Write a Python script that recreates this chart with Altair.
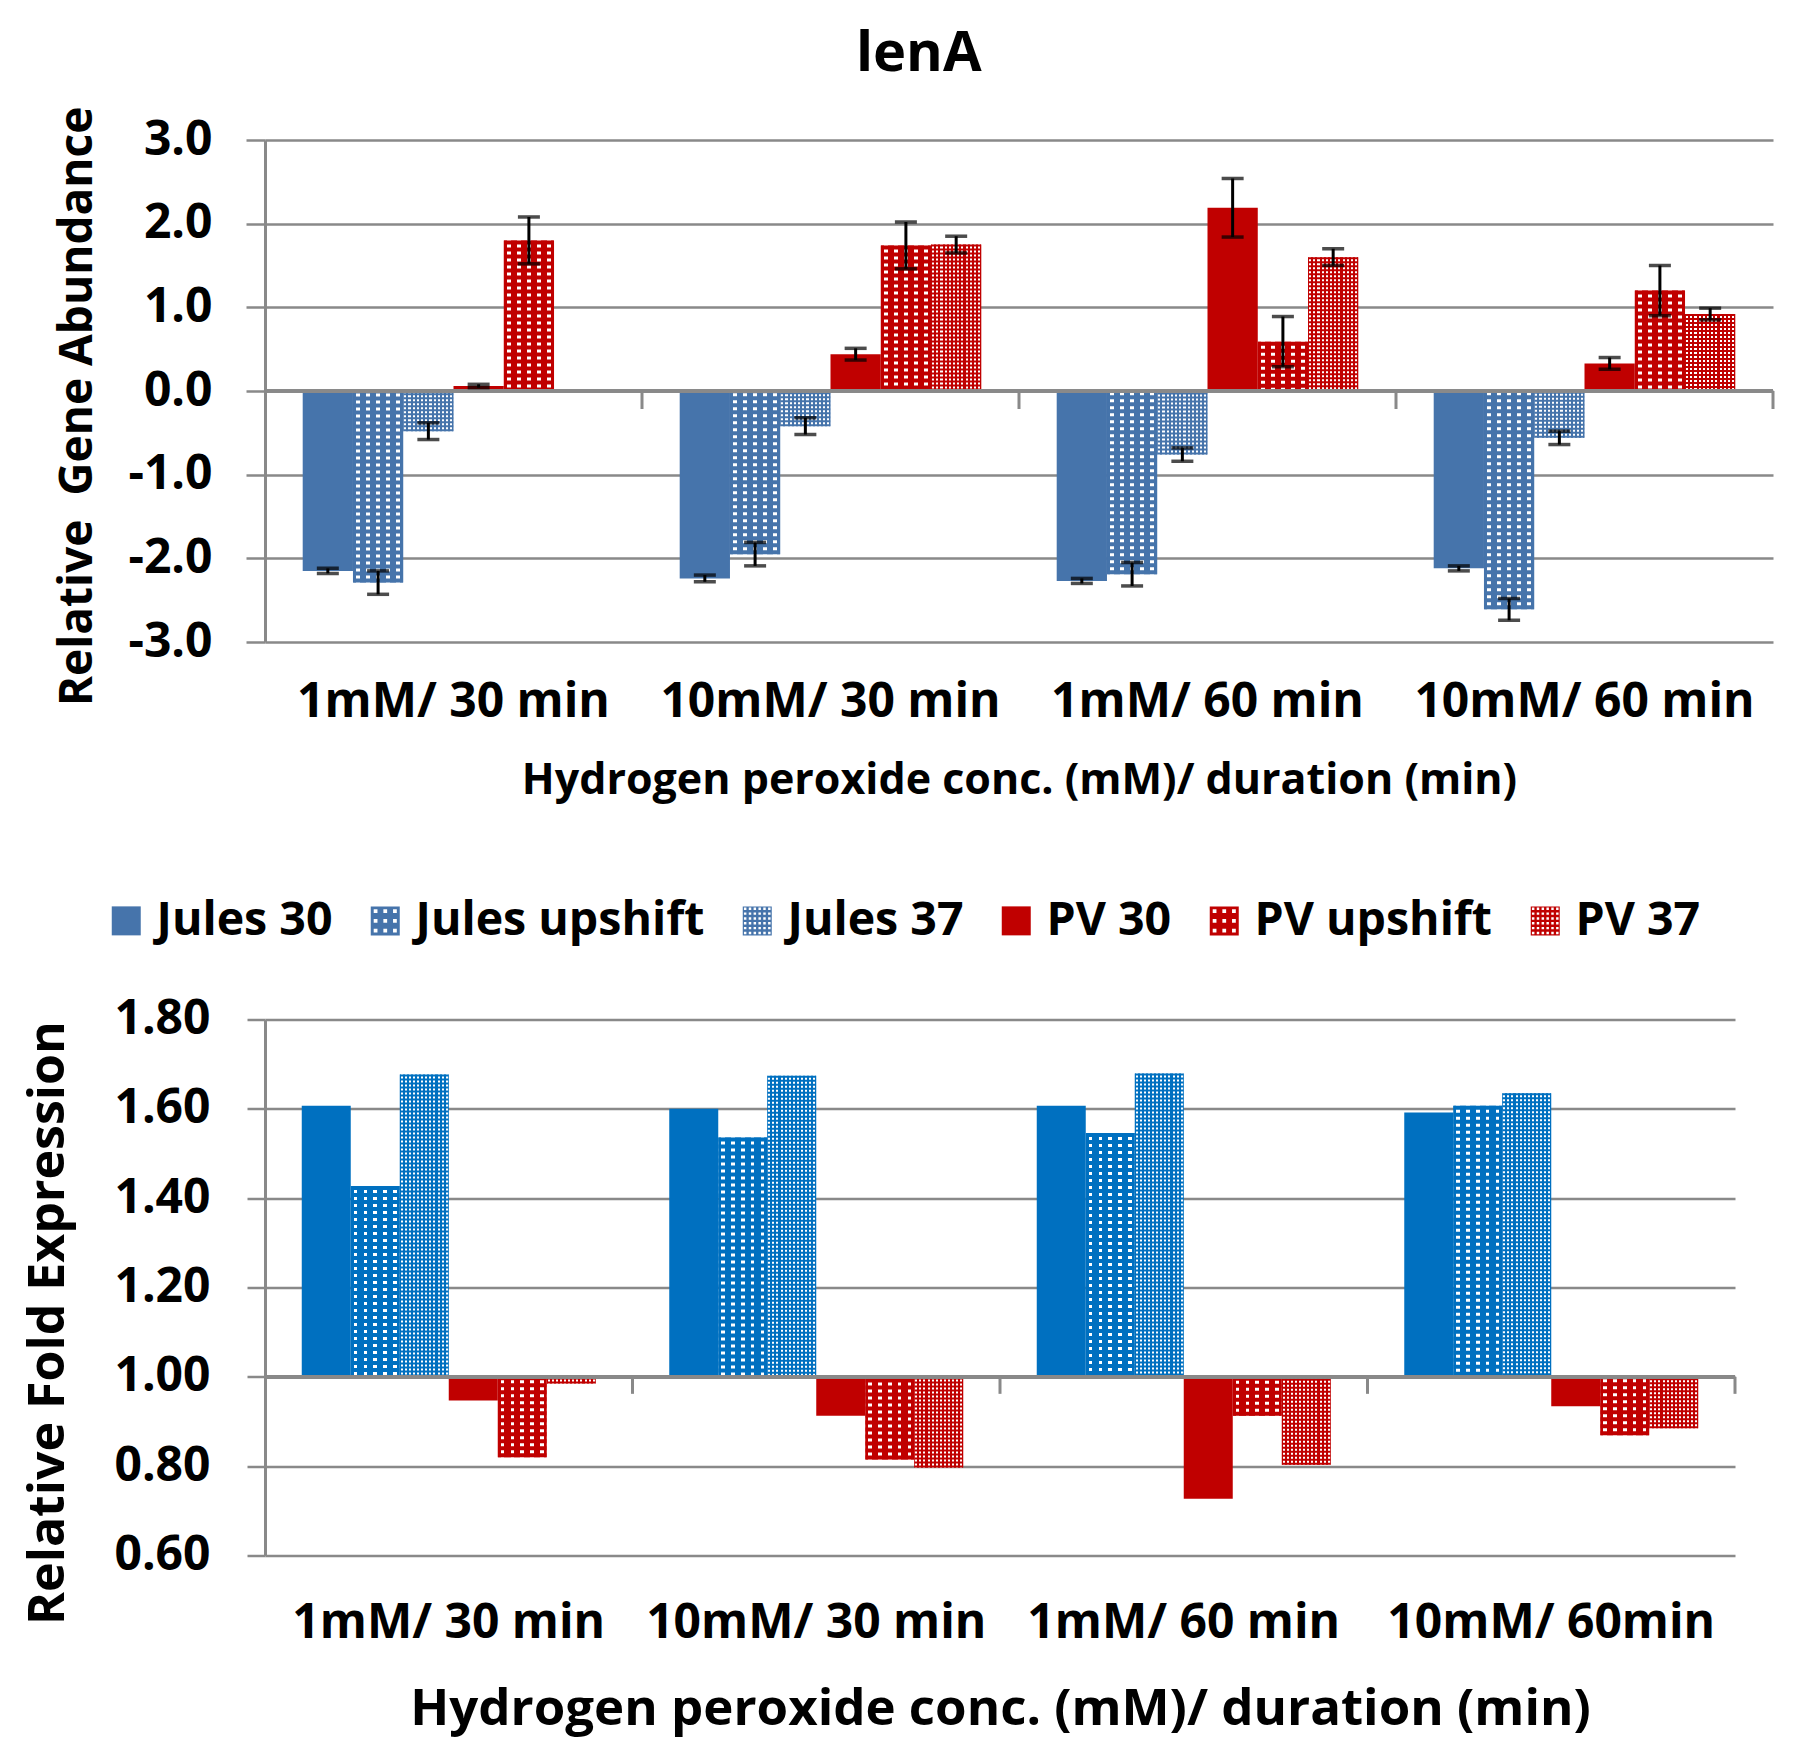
import altair as alt
import pandas as pd

# ---------------- data ----------------
title_text = "lenA"
categories_top = ["1mM/ 30 min", "10mM/ 30 min", "1mM/ 60 min", "10mM/ 60 min"]
categories_bottom = ["1mM/ 30 min", "10mM/ 30 min", "1mM/ 60 min", "10mM/ 60min"]
series = ["Jules 30", "Jules upshift", "Jules 37", "PV 30", "PV upshift", "PV 37"]

top_jules_30 = [-2.15, -2.24, -2.27, -2.12]
top_jules_upshift = [-2.29, -1.95, -2.19, -2.61]
top_jules_37 = [-0.48, -0.42, -0.76, -0.56]
top_pv_30 = [0.06, 0.44, 2.19, 0.33]
top_pv_upshift = [1.80, 1.74, 0.59, 1.20]
top_pv_37 = [None, 1.75, 1.60, 0.92]

err_jules_30 = [0.03, 0.04, 0.03, 0.03]
err_jules_upshift = [0.14, 0.14, 0.14, 0.13]
err_jules_37 = [0.10, 0.10, 0.08, 0.08]
err_pv_30 = [0.02, 0.07, 0.35, 0.07]
err_pv_upshift = [0.28, 0.28, 0.30, 0.30]
err_pv_37 = [None, 0.10, 0.10, 0.07]

bot_jules_30 = [1.607, 1.600, 1.607, 1.592]
bot_jules_upshift = [1.427, 1.536, 1.546, 1.607]
bot_jules_37 = [1.677, 1.674, 1.679, 1.635]
bot_pv_30 = [0.947, 0.913, 0.727, 0.934]
bot_pv_upshift = [0.820, 0.815, 0.913, 0.869]
bot_pv_37 = [0.985, 0.797, 0.803, 0.885]

top_ticks = [-3, -2, -1, 0, 1, 2, 3]
bottom_ticks = [0.6, 0.8, 1.0, 1.2, 1.4, 1.6, 1.8]

top_title_y = "Relative\u00a0 Gene Abundance"
bottom_title_y = "Relative Fold Expression"
title_x = "Hydrogen peroxide conc. (mM)/ duration (min)"

# ---------------- tables ----------------
top_vals = [top_jules_30, top_jules_upshift, top_jules_37, top_pv_30, top_pv_upshift, top_pv_37]
top_errs = [err_jules_30, err_jules_upshift, err_jules_37, err_pv_30, err_pv_upshift, err_pv_37]
bot_vals = [bot_jules_30, bot_jules_upshift, bot_jules_37, bot_pv_30, bot_pv_upshift, bot_pv_37]

rows = []
for s, vals, errs in zip(series, top_vals, top_errs):
    for c, v, e in zip(categories_top, vals, errs):
        if v is not None:
            rows.append({"cat": c, "series": s, "value": v, "err": e})
df_top = pd.DataFrame(rows)

rows = []
for s, vals in zip(series, bot_vals):
    for c, v in zip(categories_bottom, vals):
        rows.append({"cat": c, "series": s, "value": v})
df_bot = pd.DataFrame(rows)

# ---------------- style ----------------
FONT = "Open Sans"
GRAY = "#898989"
RED = "#C00000"
BLUE_TOP = "#4674AB"
BLUE_BOT = "#0070C0"
pattern = {"Jules 30": "solid", "Jules upshift": "dots", "Jules 37": "fine",
           "PV 30": "solid", "PV upshift": "dots", "PV 37": "fine"}
colors_top = {"Jules 30": BLUE_TOP, "Jules upshift": BLUE_TOP, "Jules 37": BLUE_TOP,
              "PV 30": RED, "PV upshift": RED, "PV 37": RED}
colors_bot = {"Jules 30": BLUE_BOT, "Jules upshift": BLUE_BOT, "Jules 37": BLUE_BOT,
              "PV 30": RED, "PV upshift": RED, "PV 37": RED}
pat_cfg = {"dots": (5, 0.36, [4, 3]), "fine": (12, 0.5, [2, 2])}

TOP_W, TOP_H = 1508, 502
BOT_W, BOT_H = 1470, 536


def stripes(color, n, frac):
    stops = [alt.GradientStop(color=color, offset=0)]
    for k in range(n):
        a = (k + (1 - frac) / 2) / n
        b = (k + (1 + frac) / 2) / n
        stops += [alt.GradientStop(color=color, offset=a), alt.GradientStop(color="white", offset=a),
                  alt.GradientStop(color="white", offset=b), alt.GradientStop(color=color, offset=b)]
    stops.append(alt.GradientStop(color=color, offset=1))
    return alt.Gradient(gradient="linear", stops=stops, x1=0, x2=1, y1=0, y2=0)


def square_path(holes, hole):
    p = "M-1,-1H1V1H-1Z"
    if holes:
        cs = [-1 + (i + 0.5) * 2 / holes for i in range(holes)]
        h = hole / 2
        for cx in cs:
            for cy in cs:
                p += f"M{cx-h:.3f},{cy-h:.3f}V{cy+h:.3f}H{cx+h:.3f}V{cy-h:.3f}Z"
    return p


legend_paths = [square_path(0, 0), square_path(3, 0.26), square_path(6, 0.17),
                square_path(0, 0), square_path(3, 0.26), square_path(6, 0.17)]
legend_colors = [BLUE_TOP, BLUE_TOP, BLUE_TOP, RED, RED, RED]


def panel(df, cats, colors, W, H, ybase, yscale, yaxis, xaxis, with_err, tick_len, legend=None):
    step = W / len(cats)
    bw = step / 7.5
    xs = alt.Scale(domain=cats, paddingInner=0, paddingOuter=0)
    X = alt.X("cat:N", scale=xs, sort=cats, axis=xaxis)
    XO = alt.XOffset("series:N", scale=alt.Scale(domain=series, paddingInner=0, paddingOuter=0.75))
    Y = alt.Y("value:Q", scale=yscale, axis=yaxis)
    layers = []
    for s in series:
        base = alt.Chart(df).transform_filter(alt.datum.series == s)
        col = colors[s]
        pat = pattern[s]
        if pat == "solid":
            layers.append(base.mark_bar(fill=col).encode(x=X, xOffset=XO, y=Y, y2=alt.datum(ybase)))
        else:
            n, frac, dash = pat_cfg[pat]
            layers.append(base.mark_bar(fill=stripes(col, n, frac)).encode(
                x=X, xOffset=XO, y=Y, y2=alt.datum(ybase)))
            layers.append(base.mark_rule(color=col, strokeWidth=bw - 0.6, strokeDash=dash).encode(
                x=X, xOffset=XO, y=Y, y2=alt.datum(ybase)))
    # base line acting as the category axis
    layers.append(alt.Chart(df).mark_rule(color=GRAY, strokeWidth=3).encode(y=alt.datum(ybase)))
    cat_df = pd.DataFrame({"cat": cats})
    layers.append(alt.Chart(cat_df).mark_rule(color=GRAY, strokeWidth=3, y2Offset=tick_len).encode(
        x=alt.X("cat:N", scale=xs, sort=cats, axis=xaxis, bandPosition=1),
        y=alt.datum(ybase), y2=alt.datum(ybase)))
    if with_err:
        eb = alt.Chart(df).transform_filter("isValid(datum.err)").transform_calculate(
            lo="datum.value - datum.err", hi="datum.value + datum.err")
        layers.append(eb.mark_rule(color="black", strokeWidth=3).encode(
            x=X, xOffset=XO, y=alt.Y("lo:Q", scale=yscale, axis=yaxis), y2="hi:Q"))
        for f in ["lo", "hi"]:
            layers.append(eb.mark_tick(color="black", thickness=3.5, size=22).encode(
                x=X, xOffset=XO, y=alt.Y(f + ":Q", scale=yscale, axis=yaxis)))
    if legend is not None:
        layers.append(alt.Chart(df).mark_point(filled=True, opacity=0).encode(
            x=X, y=Y,
            color=alt.Color("series:N", scale=alt.Scale(domain=series, range=legend_colors), legend=legend),
            shape=alt.Shape("series:N", scale=alt.Scale(domain=series, range=legend_paths), legend=legend)))
    return alt.layer(*layers).properties(width=W, height=H)


def yaxis_def(values, expr, lfs, title, tfs, lpad, tpad, tsize, title_y):
    return alt.Axis(values=values, labelExpr=expr, grid=True, gridColor=GRAY, gridWidth=2.5,
                    domainColor=GRAY, domainWidth=3, tickColor=GRAY, tickWidth=2.5, tickSize=tsize,
                    labelFont=FONT, labelFontSize=lfs, labelFontWeight="bold", labelColor="black",
                    labelPadding=lpad, title=title, titleFont=FONT, titleFontSize=tfs,
                    titleFontWeight="bold", titleColor="black", titlePadding=tpad, titleY=title_y)


def xaxis_def(lfs, tfs, lpad, tpad):
    return alt.Axis(orient="bottom", domain=False, ticks=False, grid=False, labelAngle=0,
                    labelFont=FONT, labelFontSize=lfs, labelFontWeight="bold", labelColor="black",
                    labelPadding=lpad, labelLimit=0, title=title_x, titleFont=FONT, titleFontSize=tfs,
                    titleFontWeight="bold", titleColor="black", titlePadding=tpad)


top_y_axis = yaxis_def(top_ticks, "(datum.value < 0 ? '-' : '') + format(abs(datum.value), '.1f')",
                       48, top_title_y, 46, 34, 26, 19, TOP_H / 2 + 15)
bot_y_axis = yaxis_def(bottom_ticks, "format(datum.value, '.2f')", 48, bottom_title_y, 50, 37, 40, 18,
                       BOT_H / 2 + 35)

top = panel(df_top, categories_top, colors_top, TOP_W, TOP_H, 0,
            alt.Scale(domain=[-3, 3], nice=False, zero=False), top_y_axis,
            xaxis_def(48, 43, 36, 33), True, 18).properties(
    title=alt.TitleParams(title_text, font=FONT, fontSize=56, fontWeight="bold", color="black",
                          anchor="middle", frame="bounds", offset=23, dx=4))

leg = alt.Legend(title=None, orient="none", legendX=-162, legendY=-122, direction="horizontal",
                 symbolSize=841, symbolOpacity=1, symbolStrokeWidth=0, labelFont=FONT, labelFontSize=46.5,
                 labelFontWeight="bold", labelColor="black", labelOffset=7, columnPadding=29,
                 padding=0, labelLimit=0)

bottom = panel(df_bot, categories_bottom, colors_bot, BOT_W, BOT_H, 1.0,
               alt.Scale(domain=[0.6, 1.8], nice=False, zero=False), bot_y_axis,
               xaxis_def(48, 51, 44, 37), False, 17, legend=leg)

chart = alt.vconcat(top, bottom, spacing=377.5, bounds="flush").resolve_scale(
    x="independent", y="independent", xOffset="independent", color="independent", shape="independent"
).resolve_legend(color="independent", shape="independent").properties(
    padding={"left": 15, "top": 18, "right": 5, "bottom": 8}, background="white"
).configure_view(stroke=None)

chart.save("out.html", embed_options={"renderer": "svg", "actions": False})
